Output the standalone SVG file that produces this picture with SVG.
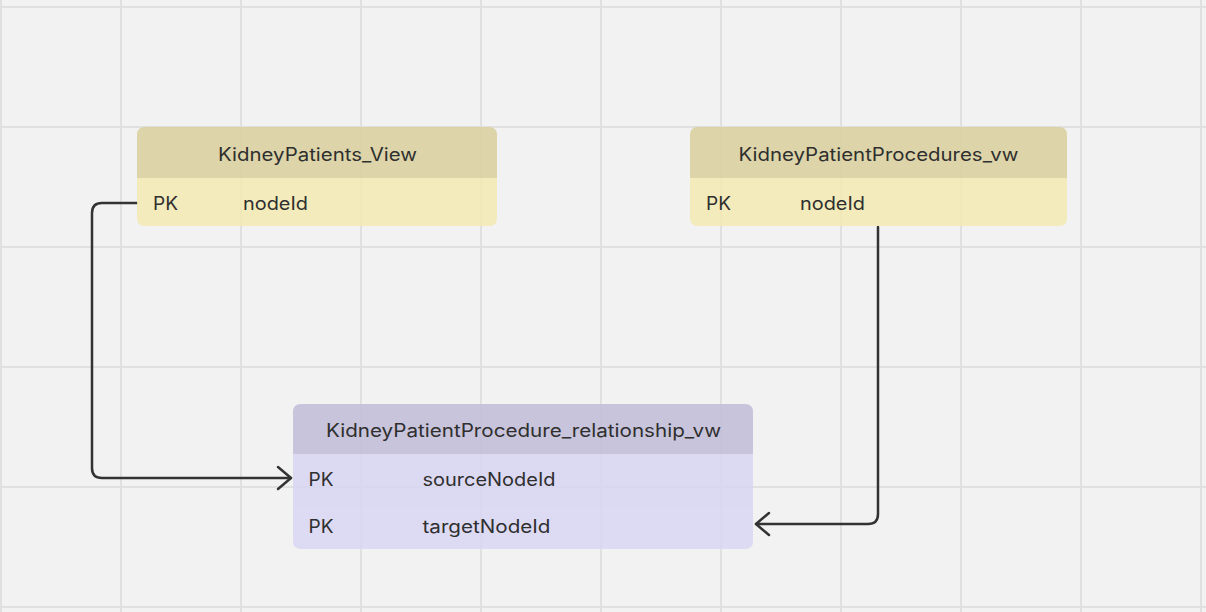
<svg xmlns="http://www.w3.org/2000/svg" width="1206" height="612" viewBox="0 0 1206 612">
<defs>
<style>
.grid{stroke:#e0e0e0;stroke-width:2}
.t{font-family:Inter,"Noto Sans","Liberation Sans",sans-serif;font-size:18px;fill:#2f2f2f}
.conn{fill:none;stroke:#333;stroke-width:2.5;stroke-linejoin:round;stroke-linecap:round}
</style>
<marker id="arr" markerUnits="userSpaceOnUse" markerWidth="30" markerHeight="30" viewBox="-15 -15 30 30" refX="0" refY="0" orient="auto">
<path d="M-13,-11 L0,0 L-13,11" fill="none" stroke="#333" stroke-width="2.5" stroke-linecap="round" stroke-linejoin="round"/>
</marker>
</defs>
<rect width="1206" height="612" fill="#f2f2f2"/>
<g id="grid">
<path class="grid" d="M1,0V612M121,0V612M241,0V612M361,0V612M481,0V612M601,0V612M721,0V612M841,0V612M961,0V612M1081,0V612M1201,0V612M0,7H1206M0,127H1206M0,247H1206M0,367H1206M0,487H1206M0,607H1206"/>
</g>
<g id="connectors">
<path class="conn" d="M137,203 H102 Q92,203 92,213 V468 Q92,478 102,478 H291" marker-end="url(#arr)"/>
<path class="conn" d="M878,227 V514 Q878,524 868,524 H756" marker-end="url(#arr)"/>
</g>
<g id="node-kidneypatients-view">
<g opacity="0.87">
<path d="M145,127 H489 Q497,127 497,135 V178 H137 V135 Q137,127 145,127 Z" fill="#dbd19f"/>
<path d="M137,178 H497 V218 Q497,226 489,226 H145 Q137,226 137,218 Z" fill="#f4eab4"/>
</g>
<text class="t" x="218" y="161" textLength="199" lengthAdjust="spacingAndGlyphs">KidneyPatients_View</text>
<text class="t" x="153" y="210" textLength="25" lengthAdjust="spacingAndGlyphs">PK</text>
<text class="t" x="243" y="210" textLength="65" lengthAdjust="spacingAndGlyphs">nodeId</text>
</g>
<g id="node-kidneypatientprocedures-vw">
<g opacity="0.87">
<path d="M698,127 H1059 Q1067,127 1067,135 V178 H690 V135 Q690,127 698,127 Z" fill="#dbd19f"/>
<path d="M690,178 H1067 V218 Q1067,226 1059,226 H698 Q690,226 690,218 Z" fill="#f4eab4"/>
</g>
<text class="t" x="738.5" y="161" textLength="280" lengthAdjust="spacingAndGlyphs">KidneyPatientProcedures_vw</text>
<text class="t" x="706" y="210" textLength="25" lengthAdjust="spacingAndGlyphs">PK</text>
<text class="t" x="800" y="210" textLength="65" lengthAdjust="spacingAndGlyphs">nodeId</text>
</g>
<g id="node-relationship-vw">
<g opacity="0.87">
<path d="M301,404 H745 Q753,404 753,412 V454 H293 V412 Q293,404 301,404 Z" fill="#c2bed8"/>
<path d="M293,454 H753 V541 Q753,549 745,549 H301 Q293,549 293,541 Z" fill="#d9d6f2"/>
</g>
<text class="t" x="326" y="437" textLength="395" lengthAdjust="spacingAndGlyphs">KidneyPatientProcedure_relationship_vw</text>
<text class="t" x="308.5" y="486" textLength="25" lengthAdjust="spacingAndGlyphs">PK</text>
<text class="t" x="422.5" y="486" textLength="133" lengthAdjust="spacingAndGlyphs">sourceNodeId</text>
<text class="t" x="308.5" y="533" textLength="25" lengthAdjust="spacingAndGlyphs">PK</text>
<text class="t" x="422.5" y="533" textLength="128" lengthAdjust="spacingAndGlyphs">targetNodeId</text>
</g>
</svg>
